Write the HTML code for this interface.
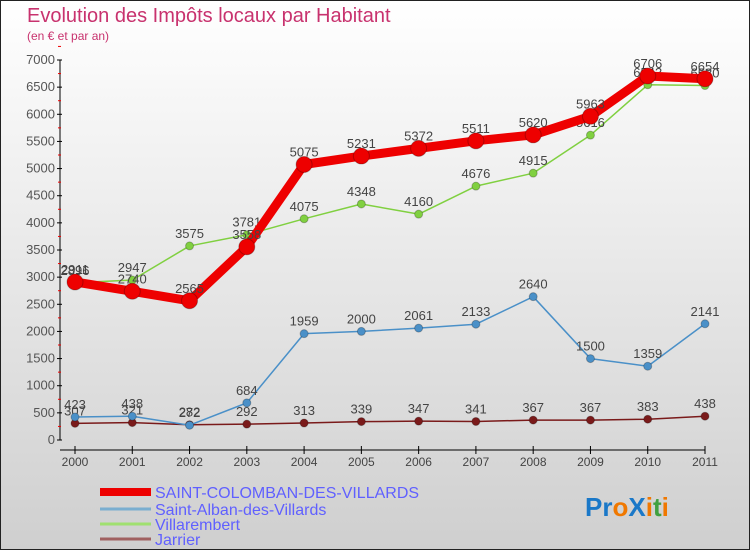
<!DOCTYPE html>
<html><head><meta charset="utf-8">
<style>
html,body{margin:0;padding:0;}
body{width:750px;height:550px;overflow:hidden;font-family:"Liberation Sans",sans-serif;}
#frame{position:absolute;left:0;top:0;width:748px;height:548px;border:1px solid #222;
background:linear-gradient(#ffffff 0%,#ececec 40%,#cfcfcf 100%);}
</style></head>
<body>
<div id="frame">
<svg id="chart" width="750" height="550" style="position:absolute;left:-1px;top:-1px">
<text x="27" y="22" font-size="20" fill="#c8326e">Evolution des Impôts locaux par Habitant</text>
<text x="27" y="40" font-size="12" fill="#c8326e">(en € et par an)</text>
<g id="axes"></g>
<g id="series"></g>
<g id="legend"></g>
<text x="585" y="516" font-size="26" font-weight="bold"><tspan fill="#1a78c8">Pr</tspan><tspan fill="#f07800">o</tspan><tspan fill="#1a78c8">X</tspan><tspan fill="#f07800">i</tspan><tspan fill="#40a040">t</tspan><tspan fill="#f07800">i</tspan></text>
</svg>
</div>
<script>
const years=[2000,2001,2002,2003,2004,2005,2006,2007,2008,2009,2010,2011];
const yTicks=[0,500,1000,1500,2000,2500,3000,3500,4000,4500,5000,5500,6000,6500,7000];
const stColomban=[2911,2740,2565,3558,5075,5231,5372,5511,5620,5963,6706,6654];
const stAlban=[423,438,272,684,1959,2000,2061,2133,2640,1500,1359,2141];
const villarembert=[2896,2947,3575,3781,4075,4348,4160,4676,4915,5616,6543,6530];
const jarrier=[307,321,282,292,313,339,347,341,367,367,383,438];
const seriesNames=["SAINT-COLOMBAN-DES-VILLARDS","Saint-Alban-des-Villards","Villarembert","Jarrier"];

const NS="http://www.w3.org/2000/svg";
function xS(i){return 75+i*(630/11);}
function yS(v){return 440-v*(380/7000);}
function mk(tag,attrs,parent){const e=document.createElementNS(NS,tag);for(const k in attrs)e.setAttribute(k,attrs[k]);parent.appendChild(e);return e;}
const axes=document.getElementById('axes');
let a=mk('line',{x1:60,y1:yS(7000),x2:60,y2:yS(0),stroke:'#000','stroke-width':1},axes);


yTicks.forEach(t=>{
  const l=mk('line',{x1:57,y1:yS(t),x2:62,y2:yS(t),stroke:'#000'},axes);
  
  
  const m=mk('line',{x1:58,y1:yS(t+250),x2:61,y2:yS(t+250),stroke:'#e00'},axes);
  
  
  const tx=mk('text',{x:55,y:yS(t)+4,'font-size':13,fill:'#555','text-anchor':'end'},axes);
  tx.textContent=t;
  
  
});
let xa=mk('line',{x1:60,y1:450,x2:xS(11),y2:450,stroke:'#000'},axes);


years.forEach((y,i)=>{
  const l=mk('line',{x1:xS(i),y1:446,x2:xS(i),y2:454,stroke:'#000'},axes);
  
  
  const tx=mk('text',{x:xS(i),y:466,'font-size':12,fill:'#444','text-anchor':'middle'},axes);
  tx.textContent=y;
  
  
});
const sg=document.getElementById('series');
function drawSeries(vals,color,w,r,name,labelAbove){
  const g=mk('g',{},sg);
  
  
  const pts=vals.map((v,i)=>xS(i)+','+yS(v)).join(' ');
  const pl=mk('polyline',{points:pts,fill:'none',stroke:color,'stroke-width':w,'stroke-linejoin':'round'},g);
  
  
  vals.forEach((v,i)=>{
    const c=mk('circle',{cx:xS(i),cy:yS(v),r:r,fill:color,stroke:'rgba(0,0,0,0.25)','stroke-width':1},g);
    
    
    const t=mk('text',{x:xS(i),y:yS(v)-8,'font-size':13,fill:'#444','text-anchor':'middle'},g);
    t.textContent=v;
    
    
  });
}
drawSeries(jarrier,'#7a1a1a',1.5,4,'jarrier-series');
drawSeries(stAlban,'#4a90c8',1.5,4,'saint-alban-series');
drawSeries(villarembert,'#80d040',1.5,4,'villarembert-series');
drawSeries(stColomban,'#ee0000',9,8,'saint-colomban-series');

const lg=document.getElementById('legend');
const lcol=['#ee0000','#7aaed0','#a0e070','#a06060'];
const lw=[8,3,3,3];
const ly=[492,509,524,539];
seriesNames.forEach((n,i)=>{
  const l=mk('line',{x1:100,y1:ly[i],x2:151,y2:ly[i],stroke:lcol[i],'stroke-width':lw[i]},lg);
  
  
  const t=mk('text',{x:155,y:ly[i]+6,'font-size':16,fill:'#6060ff'},lg);
  t.textContent=n;
  
  
});
</script>
</body></html>
